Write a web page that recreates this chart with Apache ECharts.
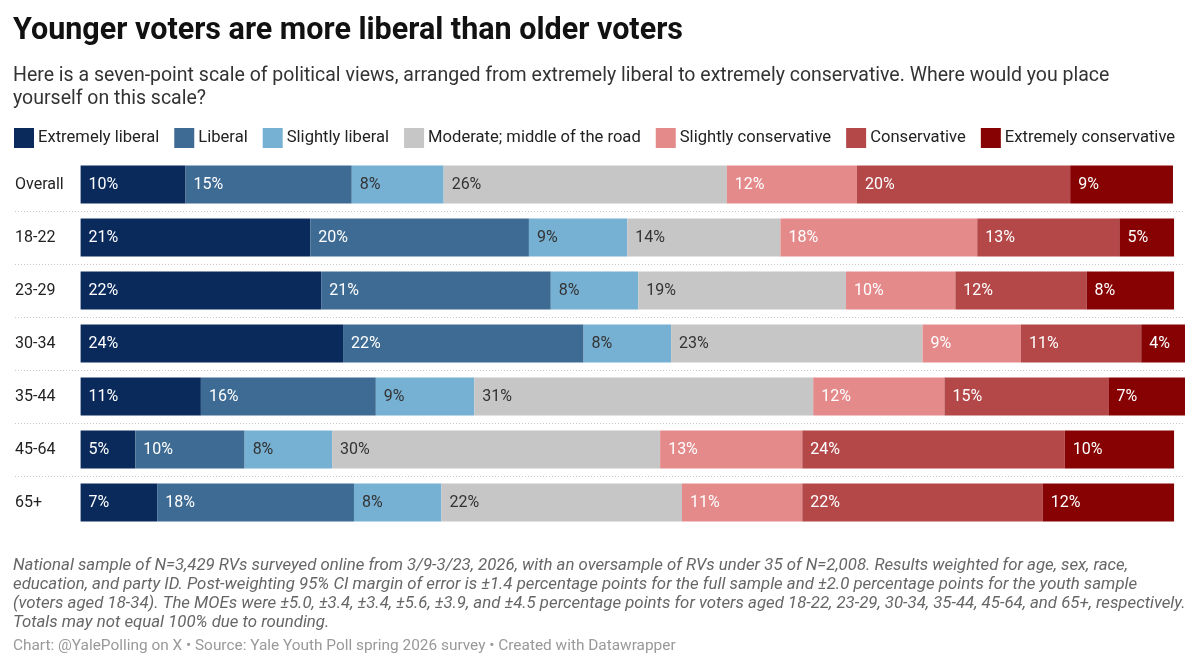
<!DOCTYPE html>
<html>
<head>
<meta charset="utf-8">
<script src="https://cdn.jsdelivr.net/npm/echarts@6/dist/echarts.min.js"></script>
<style>
  html, body { margin: 0; padding: 0; background: #fff; }
  #chart { width: 1200px; height: 667px; }
</style>
</head>
<body>
<div id="chart"></div>
<script>
// 分组（从上到下）
const ageGroups = ['Overall', '18-22', '23-29', '30-34', '35-44', '45-64', '65+'];

// 各立场占比（%）
const extremelyLiberal      = [9.6, 21, 22, 24, 11, 5, 7];
const liberal               = [15.2, 20, 21, 22, 16, 10, 18];
const slightlyLiberal       = [8.4, 9, 8, 8, 9, 8, 8];
const moderate              = [25.9, 14, 19, 23, 31, 30, 22];
const slightlyConservative  = [11.9, 18, 10, 9, 12, 13, 11];
const conservative          = [19.5, 13, 12, 11, 15, 24, 22];
const extremelyConservative = [9.4, 5, 8, 4, 7, 10, 12];

const FONT = 'Roboto, "Noto Sans", sans-serif';

const SERIES = [
  { name: 'Extremely liberal', data: extremelyLiberal, color: '#0a2a5c', text: '#fff' },
  { name: 'Liberal', data: liberal, color: '#3e6b93', text: '#fff' },
  { name: 'Slightly liberal', data: slightlyLiberal, color: '#76b0d3', text: '#333' },
  { name: 'Moderate; middle of the road', data: moderate, color: '#c6c6c6', text: '#333' },
  { name: 'Slightly conservative', data: slightlyConservative, color: '#e58a8b', text: '#fff' },
  { name: 'Conservative', data: conservative, color: '#b44849', text: '#fff' },
  { name: 'Extremely conservative', data: extremelyConservative, color: '#860203', text: '#fff' },
];

const chart = echarts.init(document.getElementById('chart'));

const option = {
  animation: false,
  backgroundColor: '#fff',
  textStyle: { fontFamily: FONT },
  title: [
    {
      text: 'Younger voters are more liberal than older voters',
      left: 13, top: 16, padding: 0,
      textStyle: { fontFamily: FONT, fontSize: 30.5, fontWeight: 'bold', color: '#111' },
    },
    {
      text: 'Here is a seven-point scale of political views, arranged from extremely liberal to extremely conservative. Where would you place\nyourself on this scale?',
      left: 13, top: 65, padding: 0,
      textStyle: { fontFamily: FONT, fontSize: 19.5, fontWeight: 'normal', color: '#333', lineHeight: 23 },
    },
    {
      text: 'National sample of N=3,429 RVs surveyed online from 3/9-3/23, 2026, with an oversample of RVs under 35 of N=2,008. Results weighted for age, sex, race,\neducation, and party ID. Post-weighting 95% CI margin of error is ±1.4 percentage points for the full sample and ±2.0 percentage points for the youth sample\n(voters aged 18-34). The MOEs were ±5.0, ±3.4, ±3.4, ±5.6, ±3.9, and ±4.5 percentage points for voters aged 18-22, 23-29, 30-34, 35-44, 45-64, and 65+, respectively.\nTotals may not equal 100% due to rounding.',
      left: 13, top: 556, padding: 0,
      textStyle: { fontFamily: FONT, fontSize: 16.8, fontStyle: 'italic', fontWeight: 'normal', color: '#666', lineHeight: 19 },
    },
    {
      text: 'Chart: @YalePolling on X • Source: Yale Youth Poll spring 2026 survey • Created with Datawrapper',
      left: 13, top: 639, padding: 0,
      textStyle: { fontFamily: FONT, fontSize: 15.4, fontWeight: 'normal', color: '#999' },
    },
  ],
  legend: {
    left: 14, top: 128, right: 0,
    padding: 0,
    icon: 'rect',
    itemWidth: 20, itemHeight: 20,
    itemGap: 15,
    textStyle: { fontFamily: FONT, fontSize: 16.6, color: '#222', padding: [0, 0, 0, -1] },
    data: SERIES.map(s => s.name),
  },
  grid: { left: 15, right: 15, top: 158, height: 371, containLabel: false, outerBoundsMode: 'none' },
  xAxis: {
    type: 'value', min: -6, max: 101, show: false,
  },
  yAxis: {
    type: 'category',
    data: ageGroups,
    inverse: true,
    axisLine: { show: false },
    axisTick: { show: false },
    axisLabel: { inside: true, margin: 0, fontFamily: FONT, fontSize: 16, color: '#222' },
    splitLine: {
      show: true, showMinLine: false, showMaxLine: false,
      lineStyle: { color: '#c8c8c8', type: [1, 2], width: 1 },
    },
  },
  series: SERIES.map(s => ({
    name: s.name,
    type: 'bar',
    stack: 'total',
    data: s.data,
    barWidth: 38,
    itemStyle: { color: s.color },
    label: {
      show: true,
      position: 'insideLeft',
      distance: 8,
      fontFamily: FONT,
      fontSize: 16,
      color: s.text,
      formatter: p => Math.round(p.value) + '%',
    },
    emphasis: { disabled: true },
  })),
};

chart.setOption(option);
</script>
</body>
</html>
